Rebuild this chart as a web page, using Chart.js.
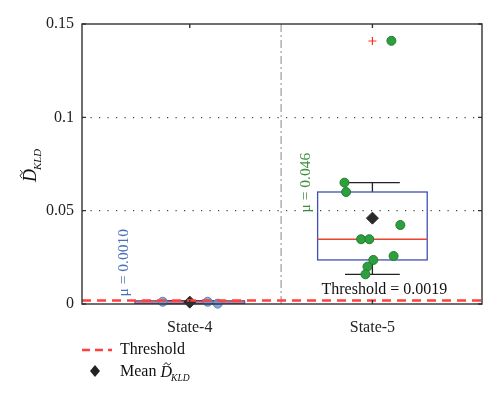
<!DOCTYPE html>
<html>
<head>
<meta charset="utf-8">
<title>KLD box plot</title>
<script src="https://cdn.jsdelivr.net/npm/chart.js@4.4.0/dist/chart.umd.min.js"></script>
<style>
  html, body { margin: 0; padding: 0; background: #fff; }
  #wrap { width: 500px; height: 398px; }
</style>
</head>
<body>
<div id="wrap"><canvas id="kldChart"></canvas></div>
<script>
// data
const categories = ['State-4', 'State-5'];
const whiskerLow = [0.0002, 0.0159];
const boxQ1 = [0.0004, 0.0236];
const boxMedian = [0.0011, 0.0347];
const boxQ3 = [0.0017, 0.0600];
const whiskerHigh = [0.0018, 0.0650];
const meanValues = [0.0010, 0.046];
const meanLabels = ['μ = 0.0010', 'μ = 0.046'];
const outlierValues = [[], [0.1409]];
const state4Points = [0.0012, 0.0012, 0.0002];
const state4Jitter = [-0.148, 0.098, 0.153];
const state5Points = [0.0650, 0.0600, 0.0423, 0.0347, 0.0347, 0.0257, 0.0236, 0.0200, 0.0159, 0.1410];
const state5Jitter = [-0.153, -0.144, 0.153, -0.062, -0.017, 0.116, 0.005, -0.027, -0.038, 0.104];
const threshold = 0.0019;
const yTicks = [0, 0.05, 0.1, 0.15];

const X_MIN = 0.41, X_MAX = 2.6;
const SERIF = '"Liberation Serif", "DejaVu Serif", serif';

function jittered(values, offsets, cat) {
    return values.map((v, i) => ({ x: cat + offsets[i], y: v }));
}

// D~ with KLD subscript, drawn from baseline point (x, y)
function drawDKLD(ctx, x, y, size) {
    ctx.font = 'italic ' + size + 'px ' + SERIF;
    ctx.textAlign = 'left';
    ctx.textBaseline = 'alphabetic';
    ctx.fillText('D', x, y);
    const dw = ctx.measureText('D').width;
    // tilde as a small wave
    const tx = x + dw * 0.3, ty = y - size * 0.82, tw = dw * 0.6;
    ctx.save();
    ctx.strokeStyle = ctx.fillStyle;
    ctx.lineWidth = 1;
    ctx.beginPath();
    ctx.moveTo(tx, ty + 1);
    ctx.bezierCurveTo(tx + tw * 0.25, ty - 2, tx + tw * 0.45, ty - 1, tx + tw * 0.5, ty);
    ctx.bezierCurveTo(tx + tw * 0.55, ty + 1, tx + tw * 0.75, ty + 2, tx + tw, ty - 1);
    ctx.stroke();
    ctx.restore();
    ctx.font = 'italic ' + (size * 0.6) + 'px ' + SERIF;
    ctx.fillText('KLD', x + dw - 1, y + size * 0.25);
}

const boxPlugin = {
    id: 'boxes',
    beforeDatasetsDraw(chart) {
        const ctx = chart.ctx;
        const xs = chart.scales.x, ys = chart.scales.y;
        ctx.save();
        categories.forEach((c, i) => {
            const cx = i + 1;
            const l = xs.getPixelForValue(cx - 0.3), r = xs.getPixelForValue(cx + 0.3);
            const cl = xs.getPixelForValue(cx - 0.15), cr = xs.getPixelForValue(cx + 0.15);
            const m = xs.getPixelForValue(cx);
            const q1 = ys.getPixelForValue(boxQ1[i]), q3 = ys.getPixelForValue(boxQ3[i]);
            const lo = ys.getPixelForValue(whiskerLow[i]), hi = ys.getPixelForValue(whiskerHigh[i]);
            const md = ys.getPixelForValue(boxMedian[i]);
            // whiskers
            ctx.strokeStyle = '#222';
            ctx.lineWidth = 1.3;
            ctx.beginPath();
            ctx.moveTo(m, q3); ctx.lineTo(m, hi);
            ctx.moveTo(cl, hi); ctx.lineTo(cr, hi);
            ctx.moveTo(m, q1); ctx.lineTo(m, lo);
            ctx.moveTo(cl, lo); ctx.lineTo(cr, lo);
            ctx.stroke();
            // box
            ctx.strokeStyle = '#3f4fb5';
            ctx.strokeRect(l, q3, r - l, q1 - q3);
            // median
            ctx.strokeStyle = '#e8452c';
            ctx.beginPath();
            ctx.moveTo(l, md); ctx.lineTo(r, md);
            ctx.stroke();
        });
        ctx.restore();
    },
    afterDraw(chart) {
        const ctx = chart.ctx;
        const xs = chart.scales.x, ys = chart.scales.y;
        const a = chart.chartArea;
        ctx.save();
        // frame
        ctx.strokeStyle = '#333';
        ctx.lineWidth = 1.4;
        ctx.strokeRect(a.left, a.top, a.right - a.left, a.bottom - a.top);
        ctx.beginPath();
        yTicks.forEach(v => {
            const y = ys.getPixelForValue(v);
            ctx.moveTo(a.left, y); ctx.lineTo(a.left + 4, y);
            ctx.moveTo(a.right, y); ctx.lineTo(a.right - 4, y);
        });
        categories.forEach((c, i) => {
            const x = xs.getPixelForValue(i + 1);
            ctx.moveTo(x, a.top); ctx.lineTo(x, a.top + 4);
            ctx.moveTo(x, a.bottom); ctx.lineTo(x, a.bottom - 4);
        });
        ctx.stroke();

        // mean labels, rotated
        const colors = ['#4a70b5', '#3a8f3a'];
        ctx.font = '15.5px ' + SERIF;
        meanLabels.forEach((t, i) => {
            ctx.save();
            ctx.translate(xs.getPixelForValue(i + 1) - 62, ys.getPixelForValue(meanValues[i] + 0.003));
            ctx.rotate(-Math.PI / 2);
            ctx.fillStyle = colors[i];
            ctx.textAlign = 'left';
            ctx.textBaseline = 'alphabetic';
            ctx.fillText(t, 0, 0);
            ctx.restore();
        });

        // threshold label
        ctx.fillStyle = '#111';
        ctx.font = '16px ' + SERIF;
        ctx.textAlign = 'center';
        ctx.textBaseline = 'alphabetic';
        ctx.fillText('Threshold = ' + threshold, xs.getPixelForValue(2) + 12, ys.getPixelForValue(threshold) - 6);

        // y axis title
        ctx.save();
        ctx.translate(36, 182);
        ctx.rotate(-Math.PI / 2);
        ctx.fillStyle = '#111';
        drawDKLD(ctx, 0, 0, 18);
        ctx.restore();

        // legend
        const lx = a.left;
        ctx.strokeStyle = '#ff4040';
        ctx.lineWidth = 2.5;
        ctx.setLineDash([8, 5]);
        ctx.beginPath();
        ctx.moveTo(lx, 350); ctx.lineTo(lx + 30, 350);
        ctx.stroke();
        ctx.setLineDash([]);
        ctx.fillStyle = '#222';
        ctx.beginPath();
        ctx.moveTo(lx + 13, 365); ctx.lineTo(lx + 18, 371);
        ctx.lineTo(lx + 13, 377); ctx.lineTo(lx + 8, 371);
        ctx.closePath();
        ctx.fill();
        ctx.fillStyle = '#111';
        ctx.font = '16px ' + SERIF;
        ctx.textAlign = 'left';
        ctx.textBaseline = 'middle';
        ctx.fillText('Threshold', lx + 38, 350);
        ctx.fillText('Mean', lx + 38, 372);
        ctx.textBaseline = 'alphabetic';
        drawDKLD(ctx, lx + 38 + ctx.measureText('Mean ').width, 377, 16);
        ctx.restore();
    }
};

const ctx = document.getElementById('kldChart').getContext('2d');
const kldChart = new Chart(ctx, {
    type: 'scatter',
    data: {
        datasets: [
            {
                label: 'Threshold',
                data: [{ x: X_MIN, y: threshold }, { x: X_MAX, y: threshold }],
                showLine: true,
                borderColor: '#ff4040',
                borderWidth: 2.5,
                borderDash: [9, 6],
                pointRadius: 0,
                order: 0
            },
            {
                label: 'separator',
                data: [{ x: 1.5, y: 0 }, { x: 1.5, y: 0.15 }],
                showLine: true,
                borderColor: '#888',
                borderWidth: 1,
                borderDash: [8, 3, 2, 3],
                pointRadius: 0,
                order: 6
            },
            {
                label: categories[0],
                data: jittered(state4Points, state4Jitter, 1),
                backgroundColor: 'rgba(110,155,215,0.85)',
                borderColor: 'rgba(80,125,190,0.9)',
                borderWidth: 1,
                pointRadius: 4.5,
                clip: false,
                order: 3
            },
            {
                label: categories[1],
                data: jittered(state5Points, state5Jitter, 2),
                backgroundColor: '#2f9e3f',
                borderColor: '#1f7d2d',
                borderWidth: 1,
                pointRadius: 4.5,
                clip: false,
                order: 3
            },
            {
                label: 'Mean',
                data: meanValues.map((v, i) => ({ x: i + 1, y: v })),
                pointStyle: 'rectRot',
                pointRadius: 6,
                backgroundColor: '#2a2a2a',
                borderColor: '#2a2a2a',
                clip: false,
                order: 1
            },
            {
                label: 'Outliers',
                data: outlierValues.flatMap((arr, i) => arr.map(v => ({ x: i + 1, y: v }))),
                pointStyle: 'cross',
                pointRadius: 4,
                borderColor: '#ff3020',
                borderWidth: 1.2,
                order: 2
            }
        ]
    },
    options: {
        responsive: true,
        maintainAspectRatio: false,
        animation: false,
        layout: { padding: { left: 0, top: 24, right: 18, bottom: 64 } },
        plugins: { legend: { display: false }, tooltip: { enabled: false } },
        scales: {
            x: {
                type: 'linear',
                min: X_MIN,
                max: X_MAX,
                afterBuildTicks: s => { s.ticks = categories.map((c, i) => ({ value: i + 1 })); },
                afterFit: s => { s.height = 30; },
                ticks: {
                    callback: v => categories[v - 1],
                    font: { family: SERIF, size: 16 },
                    color: '#222',
                    padding: 6,
                    maxRotation: 0
                },
                grid: { display: false },
                border: { display: false }
            },
            y: {
                min: 0,
                max: 0.15,
                afterBuildTicks: s => { s.ticks = yTicks.map(v => ({ value: v })); },
                afterFit: s => { s.width = 82; },
                ticks: {
                    callback: v => String(v),
                    font: { family: SERIF, size: 16 },
                    color: '#222',
                    padding: 8
                },
                grid: {
                    drawTicks: false,
                    lineWidth: 1.2,
                    color: c => (c.tick && c.tick.value > 0 && c.tick.value < 0.15) ? '#444' : 'rgba(0,0,0,0)'
                },
                border: { display: false, dash: [1.2, 7.3] }
            }
        }
    },
    plugins: [boxPlugin]
});
</script>
</body>
</html>
